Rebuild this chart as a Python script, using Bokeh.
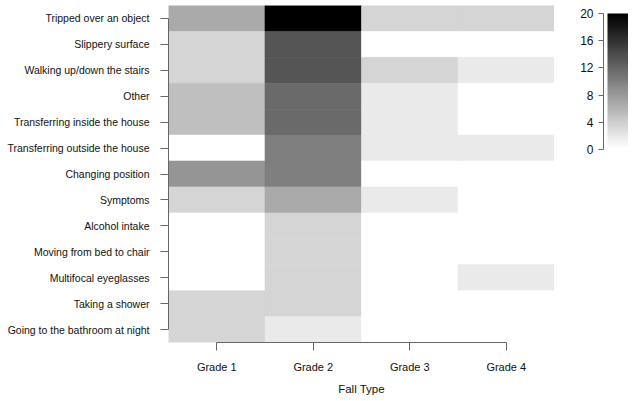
import numpy as np
from bokeh.plotting import figure
from bokeh.models import ColumnDataSource, LinearColorMapper, Range1d, FixedTicker
from bokeh.layouts import row
from bokeh.embed import file_html
from bokeh.resources import INLINE

# ---- data (percent of falls) ----
causes = ["Tripped over an object", "Slippery surface", "Walking up/down the stairs",
          "Other", "Transferring inside the house", "Transferring outside the house",
          "Changing position", "Symptoms", "Alcohol intake", "Moving from bed to chair",
          "Multifocal eyeglasses", "Taking a shower", "Going to the bathroom at night"]
grades = ["Grade 1", "Grade 2", "Grade 3", "Grade 4"]
grade1 = [6.67, 3.33, 3.33, 5.0, 5.0, 0, 8.33, 3.33, 0, 0, 0, 3.33, 3.33]
grade2 = [20.0, 13.33, 13.33, 11.67, 11.67, 10.0, 10.0, 6.67, 3.33, 3.33, 3.33, 3.33, 1.67]
grade3 = [3.33, 0, 3.33, 1.67, 1.67, 1.67, 0, 1.67, 0, 0, 0, 0, 0]
grade4 = [3.33, 0, 1.67, 0, 0, 1.67, 0, 0, 0, 0, 1.67, 0, 0]
cbar_ticks = [0, 4, 8, 12, 16, 20]
x_title = "Fall Type"

FONT = "Liberation Sans"
TXT = "#111111"
LINE = "#666666"

H = 392
TOP = 0
BOTTOM = 55
FRAME_H = H - TOP - BOTTOM  # 337

palette = ["#%02x%02x%02x" % (g, g, g) for g in np.linspace(255, 0, 256).round().astype(int)]
mapper = LinearColorMapper(palette=palette, low=0, high=20)

n = len(causes)
xs, ys, vals = [], [], []
for gi, col in enumerate([grade1, grade2, grade3, grade4]):
    for ri, v in enumerate(col):
        xs.append(gi + 1)
        ys.append(n - ri)
        vals.append(v)
src = ColumnDataSource(dict(x=xs, y=ys, v=vals))

p = figure(width=550, height=H, x_range=Range1d(0.5, 4.5), y_range=Range1d(0.5, n + 0.5),
           output_backend="svg", toolbar_location=None,
           min_border_left=162, min_border_right=0, min_border_top=TOP, min_border_bottom=BOTTOM)
p.rect(x="x", y="y", width=1, height=1, source=src,
       fill_color={"field": "v", "transform": mapper},
       line_color={"field": "v", "transform": mapper}, line_width=0.6)

p.xgrid.visible = False
p.ygrid.visible = False
p.outline_line_color = None
p.background_fill_color = "white"
p.border_fill_color = "white"

xa = p.xaxis[0]
xa.ticker = FixedTicker(ticks=list(range(1, len(grades) + 1)))
xa.major_label_overrides = {i + 1: g for i, g in enumerate(grades)}
xa.bounds = (1, len(grades))
xa.axis_label = x_title
xa.axis_label_text_font_style = "normal"
xa.axis_label_text_font = FONT
xa.axis_label_text_font_size = "11.5px"
xa.axis_label_text_color = TXT
xa.axis_label_standoff = 7
xa.major_label_text_font = FONT
xa.major_label_text_font_size = "11px"
xa.major_label_text_color = TXT
xa.major_label_standoff = 10
xa.major_tick_out = 8
xa.major_tick_in = 0
xa.minor_tick_line_color = None
xa.axis_line_color = LINE
xa.major_tick_line_color = LINE

ya = p.yaxis[0]
ya.ticker = FixedTicker(ticks=list(range(1, n + 1)))
ya.major_label_overrides = {n - i: c for i, c in enumerate(causes)}
ya.bounds = (1, n)
ya.major_label_text_font = FONT
ya.major_label_text_font_size = "10.5px"
ya.major_label_text_color = TXT
ya.major_label_standoff = 11
ya.major_tick_out = 8
ya.major_tick_in = 0
ya.minor_tick_line_color = None
ya.axis_line_color = LINE
ya.major_tick_line_color = LINE

# ---- colour bar as its own small figure (same frame height, bar occupies the top part) ----
bar_top_px, bar_h_px = 8, 136
ppu = bar_h_px / 20.0
y_end = 20 + bar_top_px / ppu
y_start = -(FRAME_H - bar_top_px - bar_h_px) / ppu
cb = figure(width=74, height=H, x_range=Range1d(0, 25), y_range=Range1d(y_start, y_end),
            output_backend="svg", toolbar_location=None,
            min_border_left=49, min_border_right=0, min_border_top=TOP, min_border_bottom=BOTTOM)
levels = np.linspace(0, 20, 64)
cb.image(image=[levels.reshape(-1, 1)], x=4, y=0, dw=21, dh=20, color_mapper=mapper)
cb.xaxis.visible = False
cb.xgrid.visible = False
cb.ygrid.visible = False
cb.outline_line_color = None
cya = cb.yaxis[0]
cya.ticker = FixedTicker(ticks=cbar_ticks)
cya.bounds = (0, 20)
cya.major_label_text_font = FONT
cya.major_label_text_font_size = "12px"
cya.major_label_text_color = TXT
cya.major_label_standoff = 5
cya.major_tick_out = 5
cya.major_tick_in = 0
cya.minor_tick_line_color = None
cya.axis_line_color = LINE
cya.major_tick_line_color = LINE

layout = row(p, cb, styles={"margin-top": "5px", "margin-left": "4px"})
open("out.html", "w").write(file_html(layout, INLINE))
